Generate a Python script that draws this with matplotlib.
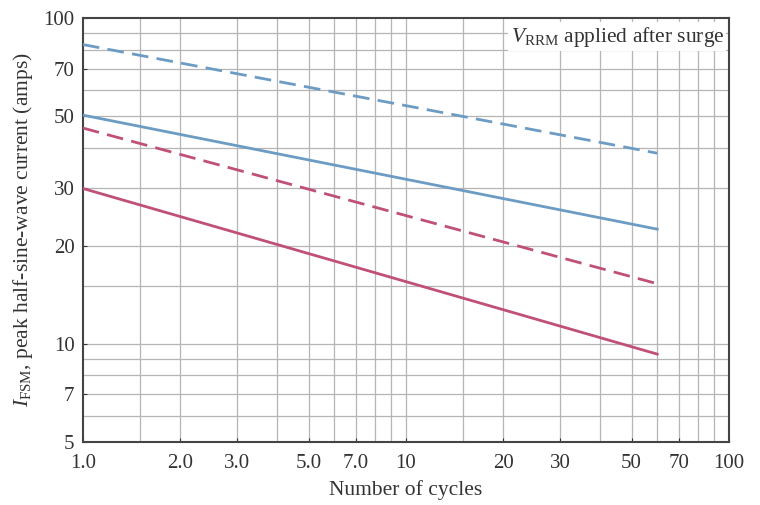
import matplotlib
matplotlib.use("Agg")
import matplotlib.pyplot as plt
from matplotlib.ticker import FixedLocator, NullFormatter, NullLocator

plt.rcParams['font.family'] = ['Liberation Serif', 'DejaVu Serif']
plt.rcParams['mathtext.fontset'] = 'custom'
plt.rcParams['mathtext.rm'] = 'Liberation Serif'
plt.rcParams['mathtext.it'] = 'Liberation Serif:italic'

cycles = [1.0, 60.0]
blue_dashed = [83.0, 38.5]
blue_solid = [50.4, 22.5]
pink_dashed = [46.0, 15.3]
pink_solid = [30.0, 9.3]

x_ticks = [1, 2, 3, 5, 7, 10, 20, 30, 50, 70, 100]
x_ticklabels = ["1.0", "2.0", "3.0", "5.0", "7.0", "10", "20", "30", "50", "70", "100"]
y_ticks = [5, 7, 10, 20, 30, 50, 70, 100]
y_ticklabels = ["5", "7", "10", "20", "30", "50", "70", "100"]
x_grid = [1.5, 2, 3, 4, 5, 6, 7, 8, 9, 10, 15, 20, 30, 40, 50, 60, 70, 80, 90]
y_grid = [6, 7, 8, 9, 10, 15, 20, 30, 40, 50, 60, 70, 80, 90]

blue = "#6c9cc4"
pink = "#c05079"

fig = plt.figure(figsize=(7.6, 5.05), dpi=100)
ax = fig.add_axes([0.109, 0.125, 0.850, 0.839])
ax.set_xscale('log')
ax.set_yscale('log')
ax.set_xlim(1, 100)
ax.set_ylim(5, 100)

for xv in x_grid:
    ax.axvline(xv, color="#b5b5b5", lw=0.9, zorder=1)
for yv in y_grid:
    ax.axhline(yv, color="#b5b5b5", lw=0.9, zorder=1)

ax.plot(cycles, blue_dashed, color=blue, lw=2, dashes=(6, 3), zorder=3)
ax.plot(cycles, blue_solid, color=blue, lw=2, zorder=3)
ax.plot(cycles, pink_dashed, color=pink, lw=2, dashes=(6, 3), zorder=3)
ax.plot(cycles, pink_solid, color=pink, lw=2, zorder=3)

ax.xaxis.set_major_locator(FixedLocator(x_ticks))
ax.xaxis.set_minor_locator(NullLocator())
ax.set_xticklabels(x_ticklabels)
ax.xaxis.set_minor_formatter(NullFormatter())
ax.yaxis.set_major_locator(FixedLocator(y_ticks))
ax.yaxis.set_minor_locator(NullLocator())
ax.set_yticklabels(y_ticklabels)
ax.yaxis.set_minor_formatter(NullFormatter())
ax.tick_params(axis='both', which='major', length=3, direction='in', labelsize=15, colors="#333333")
ax.tick_params(axis='x', pad=9)
ax.tick_params(axis='y', pad=6)

for s in ax.spines.values():
    s.set_color("#444444")
    s.set_linewidth(1.5)

ax.set_xlabel("Number of cycles", fontsize=15.5, labelpad=5, color="#333333")
ax.set_ylabel(r"$I_{\mathrm{FSM}}$, peak half-sine-wave current (amps)", fontsize=15.5, labelpad=6, color="#333333")

ax.text(0.993, 0.985, r"$V_{\mathrm{RRM}}$ applied after surge", transform=ax.transAxes,
        ha='right', va='top', fontsize=15.5, color="#333333",
        bbox=dict(facecolor='white', edgecolor='none', pad=1.5), zorder=4)

fig.savefig("out.png", dpi=100)
